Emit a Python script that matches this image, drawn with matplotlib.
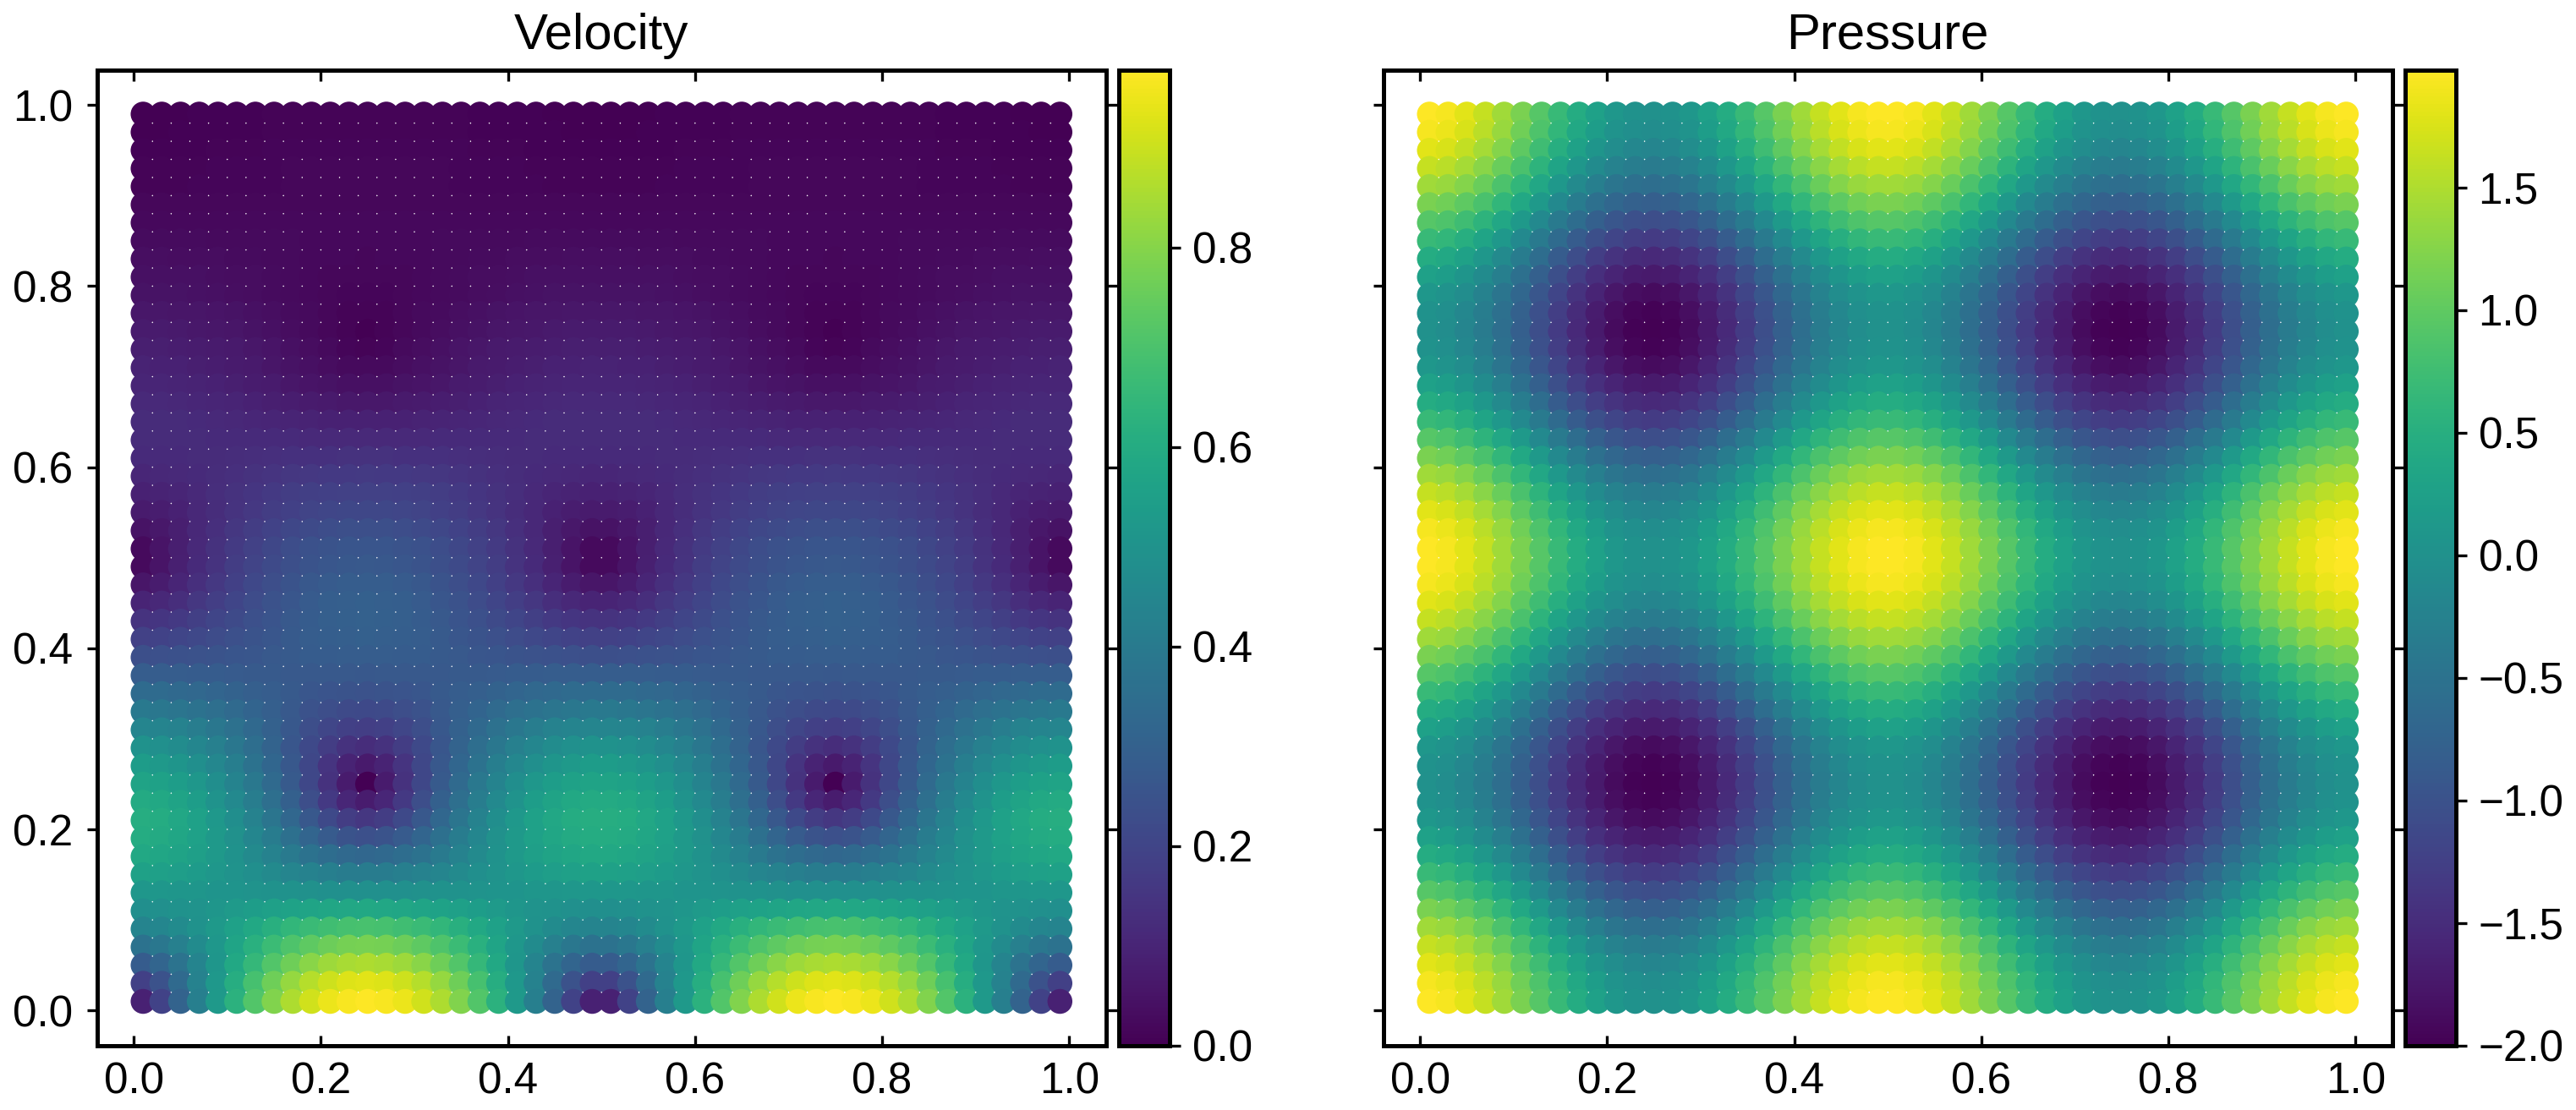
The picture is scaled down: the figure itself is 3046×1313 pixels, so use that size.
import matplotlib
matplotlib.use("Agg")
import matplotlib.pyplot as plt
import numpy as np

plt.rcParams['font.family'] = ['Liberation Sans', 'DejaVu Sans']

W, H = 3046, 1313
titles = ["Velocity", "Pressure"]
grid_x = [round(0.01 + 0.02 * i, 2) for i in range(50)]
grid_y = grid_x[::-1]

# Velocity read per row, top row (y=0.99) first, in thousandths.
# Each row lists x=0.01..0.25; the picture repeats it mirrored across the panel.
velocity_rows = [
    [1,2,3,4,5,6,7,8,9,9,10,10,10],
    [2,3,4,5,5,6,7,8,9,9,10,10,10],
    [5,5,6,7,9,10,11,12,13,13,14,14,14],
    [9,9,10,11,12,13,14,15,16,17,18,18,18],
    [11,11,11,12,13,14,14,15,16,16,17,17,17],
    [16,16,16,17,17,17,18,18,19,19,19,19,19],
    [22,22,22,22,21,21,21,21,21,21,21,21,21],
    [28,28,28,27,26,25,25,24,23,22,21,21,21],
    [35,35,34,33,31,30,28,26,24,22,21,20,19],
    [42,41,40,39,36,34,31,28,25,22,19,17,17],
    [48,48,46,44,41,38,34,30,26,21,17,14,12],
    [59,59,57,54,50,46,41,36,30,23,16,11,8],
    [70,69,67,63,59,54,48,41,34,26,17,9,0],
    [84,83,80,76,71,65,58,50,42,33,23,15,11],
    [92,91,88,84,79,72,65,57,49,40,32,26,23],
    [102,101,98,94,89,83,76,69,61,53,47,42,40],
    [114,112,110,106,102,96,90,84,78,72,67,64,63],
    [121,120,119,116,113,109,105,101,97,93,91,89,88],
    [120,120,120,119,118,117,116,116,115,114,113,113,113],
    [115,116,117,119,122,125,128,131,134,136,137,138,139],
    [105,107,112,118,125,132,140,147,153,158,162,164,165],
    [90,95,103,114,127,139,151,162,172,180,185,189,190],
    [69,77,91,108,126,143,160,174,186,196,204,208,209],
    [47,62,84,108,132,154,174,192,208,220,229,234,236],
    [23,51,81,112,140,166,190,210,228,241,251,257,259],
    [24,53,85,116,145,172,197,218,236,251,261,267,269],
    [57,75,102,131,159,186,211,233,251,266,276,283,285],
    [97,109,129,153,177,202,225,245,262,277,287,293,295],
    [142,149,162,180,199,219,238,255,270,282,291,297,299],
    [188,192,200,211,224,237,251,263,274,284,290,294,295],
    [236,238,241,245,251,257,263,269,275,279,282,285,285],
    [284,284,283,281,279,277,275,273,271,269,268,268,267],
    [339,337,332,325,316,305,294,283,272,262,254,249,247],
    [394,389,381,369,352,334,313,291,269,248,232,221,217],
    [445,440,428,411,389,362,332,299,265,232,204,184,176],
    [493,486,472,450,423,389,350,308,263,216,173,140,126],
    [535,527,510,485,454,415,370,320,266,207,148,95,68],
    [569,560,542,516,481,439,390,335,275,209,141,72,0],
    [594,585,566,539,504,461,412,355,295,230,164,106,76],
    [609,600,583,556,522,481,433,381,324,267,214,173,156],
    [603,595,580,556,527,490,449,405,359,314,276,249,239],
    [586,580,567,549,525,497,466,433,401,370,345,330,324],
    [558,553,545,533,519,502,483,464,446,430,417,408,406],
    [518,516,515,512,508,505,501,497,493,491,488,487,486],
    [485,488,495,504,515,528,540,553,564,573,580,584,586],
    [441,450,469,494,525,556,587,617,642,664,680,689,692],
    [369,388,423,468,519,570,620,665,704,736,759,773,778],
    [282,316,374,443,515,586,653,711,761,803,833,850,856],
    [187,247,333,428,522,610,691,762,822,870,905,926,933],
    [88,194,307,420,527,625,714,792,858,909,948,970,978],
]

# Pressure read per row in hundredths, for one cell of the repeating pattern.
pressure_band = [
    [198,192,180,163,142,118,93,68,45,26,11,2,-1],
    [192,186,174,157,136,112,87,62,39,20,5,-4,-7],
    [180,174,162,145,124,100,75,50,27,8,-7,-16,-19],
    [163,157,145,128,107,83,58,33,10,-9,-24,-33,-36],
    [142,136,124,107,86,62,37,12,-11,-30,-45,-54,-57],
    [118,112,100,83,62,38,13,-12,-35,-54,-69,-78,-81],
    [93,87,75,58,37,13,-12,-37,-60,-79,-94,-103,-106],
    [68,62,50,33,12,-12,-37,-62,-85,-104,-119,-128,-131],
    [45,39,27,10,-11,-35,-60,-85,-108,-127,-142,-151,-154],
    [26,20,8,-9,-30,-54,-79,-104,-127,-146,-161,-170,-173],
    [11,5,-7,-24,-45,-69,-94,-119,-142,-161,-176,-185,-188],
    [2,-4,-16,-33,-54,-78,-103,-128,-151,-170,-185,-194,-197],
    [-1,-7,-19,-36,-57,-81,-106,-131,-154,-173,-188,-197,-200],
]


def unfold(half):
    quarter = list(half) + list(half[-2::-1])
    return quarter + quarter


velocity = np.array([unfold(r) for r in velocity_rows]) / 1000.0
pressure_rows = unfold(pressure_band)
pressure = np.array([unfold(r) for r in pressure_rows]) / 100.0
fields = [velocity, pressure]

X, Y = np.meshgrid(grid_x, grid_y)

fig = plt.figure(figsize=(W / 300, H / 300), dpi=300)


def box(l, r, t, b):
    return [l / W, 1 - b / H, (r - l) / W, (b - t) / H]


TOP, BOTTOM = 82.5, 1237
ax_px = [(115, 1307.5), (1636, 2828.5)]
cb_px = [(1322.5, 1382.5), (2843.5, 2903.5)]
LW = 1.2

for n in range(2):
    ax = fig.add_axes(box(*ax_px[n], TOP, BOTTOM))
    sc = ax.scatter(X.ravel(), Y.ravel(), c=fields[n].ravel(), s=50,
                    cmap="viridis", linewidths=0)
    ax.set_xlim(-0.039, 1.039)
    ax.set_ylim(-0.039, 1.039)
    ax.set_xticks([0, 0.2, 0.4, 0.6, 0.8, 1.0])
    ax.set_yticks([0, 0.2, 0.4, 0.6, 0.8, 1.0])
    ax.tick_params(axis="x", direction="in", top=True, length=3, width=0.8,
                   labelsize=12.3, pad=4.5)
    ax.tick_params(axis="y", direction="out", right=True, length=3, width=0.8,
                   labelsize=12.3, pad=4, labelleft=(n == 0))
    ax.set_title(titles[n], fontsize=14.4, pad=6)
    for s in ax.spines.values():
        s.set_linewidth(LW)

    cax = fig.add_axes(box(*cb_px[n], TOP, BOTTOM))
    cb = fig.colorbar(sc, cax=cax)
    cb.outline.set_linewidth(LW)
    cb.ax.tick_params(length=3, width=0.8, labelsize=12.3, pad=3.5)

fig.savefig("out.png", dpi=300)
